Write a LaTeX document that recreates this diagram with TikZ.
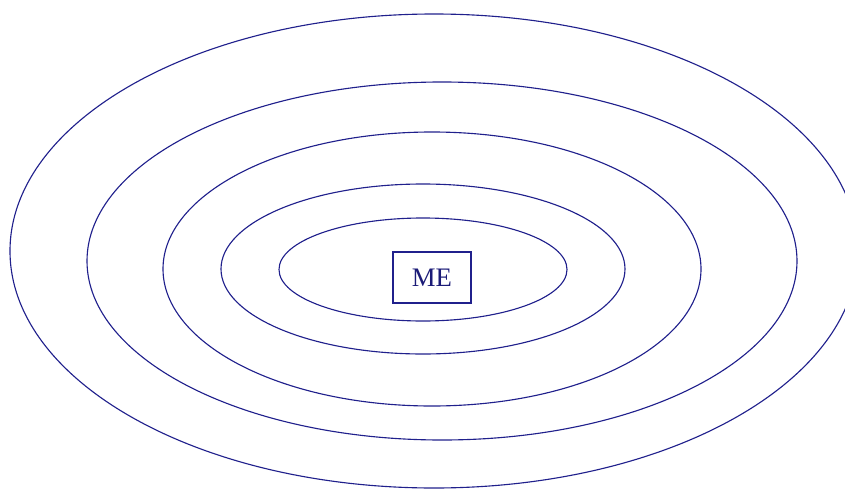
\documentclass[tikz,border=0pt]{standalone}
\usepackage{fontspec}
\setmainfont{Liberation Serif}
\usepackage{tikz}
\usetikzlibrary{positioning}
\definecolor{ringblue}{RGB}{32,32,140}

\begin{document}
\begin{tikzpicture}[
        ring/.style={draw=ringblue, line width=0.8pt},
        mebox/.style={rectangle, draw=ringblue, line width=0.8pt, minimum width=1.95cm, minimum height=1.275cm, inner sep=0pt, font=\fontsize{19}{22}\selectfont, text=ringblue!85!black}
    ]
    \useasboundingbox (0,0) rectangle (21.125,12.225);
    \clip (0,0) rectangle (21.125,12.225);
    % rings, outermost first
    \draw[ring] (10.85,5.95) ellipse [x radius=10.6cm, y radius=5.925cm];
    \draw[ring] (11.05,5.7) ellipse [x radius=8.875cm, y radius=4.475cm];
    \draw[ring] (10.8,5.5) ellipse [x radius=6.725cm, y radius=3.425cm];
    \draw[ring] (10.575,5.5) ellipse [x radius=5.05cm, y radius=2.125cm];
    \draw[ring] (10.575,5.4875) ellipse [x radius=3.6cm, y radius=1.2875cm];
    % centre
    \node[mebox] (me) at (10.8,5.2875) {ME};
\end{tikzpicture}
\end{document}
